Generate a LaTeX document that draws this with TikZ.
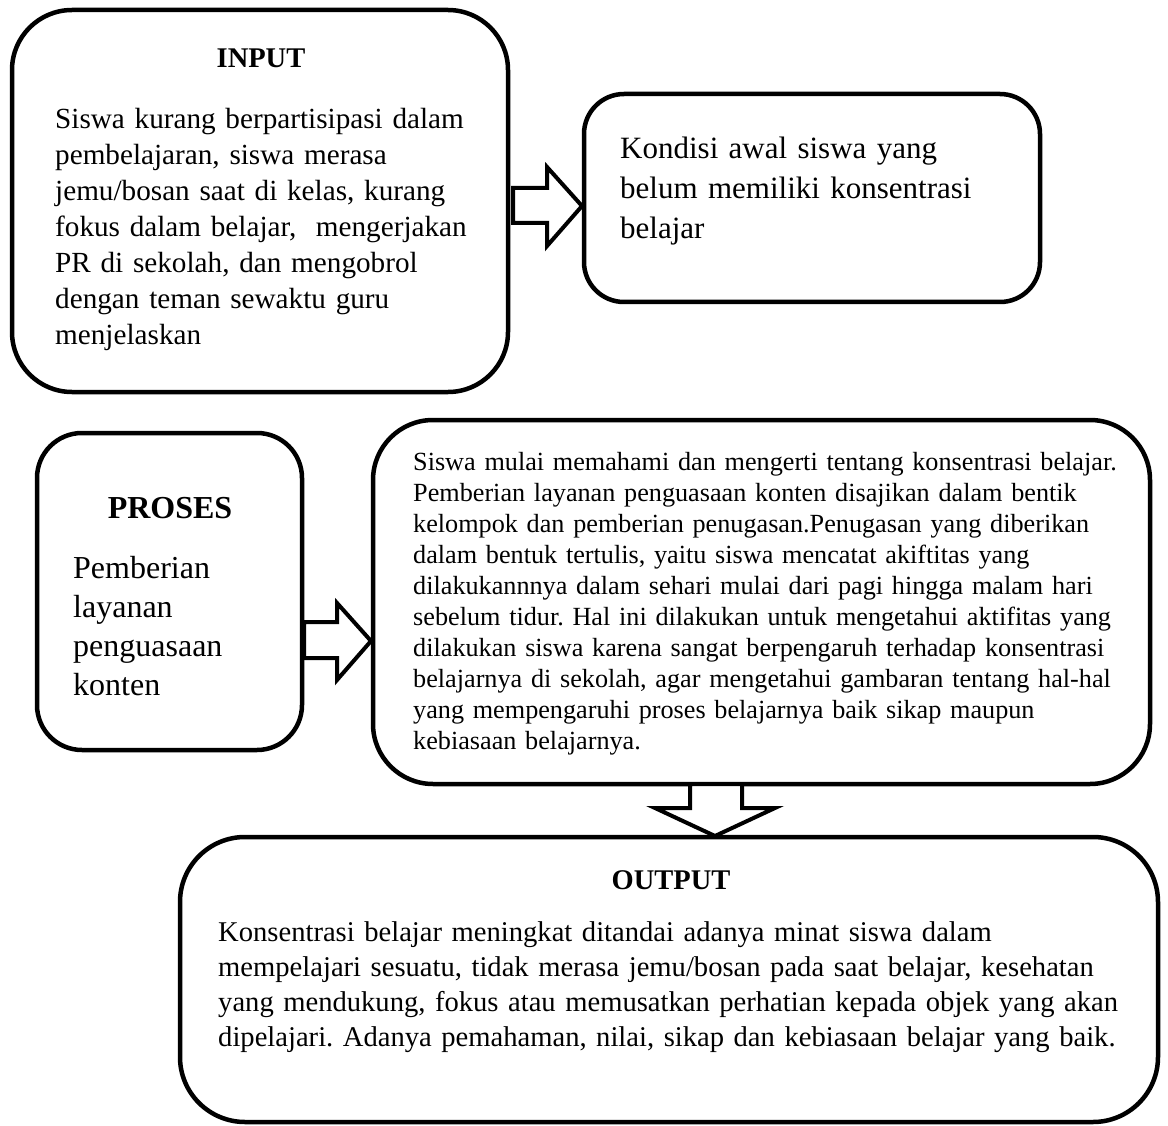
\documentclass[tikz,border=0pt]{standalone}
\usepackage{fontspec}
\setmainfont{Liberation Serif}
\begin{document}
\frenchspacing
\begin{tikzpicture}[x=1pt,y=-1pt,
  box/.style={draw=black, line width=4.5pt, fill=white},
  blockarrow/.style={draw=black, line width=4pt, fill=white, line join=miter},
  txt/.style={anchor=north west, inner sep=0pt, align=left, text width=1000pt},
  ttl/.style={anchor=base, inner sep=0pt},
]
\useasboundingbox (0,0) rectangle (1168,1126);
% boxes
\node[box, rounded corners=60pt, minimum width=496pt, minimum height=382pt] (input) at (260,201) {};
\node[box, rounded corners=40pt, minimum width=456pt, minimum height=208pt] (kondisi) at (812,198) {};
\node[box, rounded corners=45pt, minimum width=265pt, minimum height=317pt] (proses) at (169.5,591.5) {};
\node[box, rounded corners=60pt, minimum width=777pt, minimum height=364pt] (hasil) at (761.5,602) {};
\node[box, rounded corners=65pt, minimum width=978pt, minimum height=285pt] (output) at (669,979.5) {};
% texts
\node[ttl, font=\fontsize{28.5}{36}\selectfont\bfseries] (inputtitle) at (261,68) {INPUT};
\node[txt, font=\fontsize{29.2}{36}\selectfont] (inputtext) at (55,106) {\rule{0pt}{22pt}Siswa kurang berpartisipasi dalam\\
pembelajaran, siswa merasa\\
jemu/bosan saat di kelas, kurang\\
fokus dalam belajar,\ \ mengerjakan\\
PR di sekolah, dan mengobrol\\
dengan teman sewaktu guru\\
menjelaskan};
\node[txt, font=\fontsize{31}{40}\selectfont] (kondisitext) at (620,135) {\rule{0pt}{23pt}Kondisi awal siswa yang\\
belum memiliki konsentrasi\\
belajar};
\node[ttl, font=\fontsize{32}{39}\selectfont\bfseries] (prosestitle) at (170,518) {PROSES};
\node[txt, font=\fontsize{32}{39}\selectfont] (prosestext) at (73,554) {\rule{0pt}{24pt}Pemberian\\
layanan\\
penguasaan\\
konten};
\node[txt, font=\fontsize{26.2}{31}\selectfont] (hasiltext) at (413,450) {\rule{0pt}{20pt}Siswa mulai memahami dan mengerti tentang konsentrasi belajar.\\
Pemberian layanan penguasaan konten disajikan dalam bentik\\
kelompok dan pemberian penugasan.Penugasan yang diberikan\\
dalam bentuk tertulis, yaitu siswa mencatat akiftitas yang\\
dilakukannnya dalam sehari mulai dari pagi hingga malam hari\\
sebelum tidur. Hal ini dilakukan untuk mengetahui aktifitas yang\\
dilakukan siswa karena sangat berpengaruh terhadap konsentrasi\\
belajarnya di sekolah, agar mengetahui gambaran tentang hal-hal\\
yang mempengaruhi proses belajarnya baik sikap maupun\\
kebiasaan belajarnya.};
\node[ttl, font=\fontsize{28.5}{35}\selectfont\bfseries] (outputtitle) at (671,889) {OUTPUT};
\node[txt, font=\fontsize{28.6}{35}\selectfont] (outputtext) at (218,919) {\rule{0pt}{22pt}Konsentrasi belajar meningkat ditandai adanya minat siswa dalam\\
mempelajari sesuatu, tidak merasa jemu/bosan pada saat belajar, kesehatan\\
yang mendukung, fokus atau memusatkan perhatian kepada objek yang akan\\
dipelajari. Adanya pemahaman, nilai, sikap dan kebiasaan belajar yang baik.};
% block arrows
\draw[blockarrow] (513,188) -- (547,188) -- (547,167) -- (582,206) -- (547,246) -- (547,223) -- (513,223) -- cycle;
\draw[blockarrow] (304,622) -- (337,622) -- (337,603) -- (371,641) -- (337,680) -- (337,658) -- (304,658) -- cycle;
\draw[blockarrow] (690,784) -- (690,808) -- (655,808) -- (715,836) -- (775,808) -- (742,808) -- (742,784) -- cycle;
\end{tikzpicture}
\end{document}
